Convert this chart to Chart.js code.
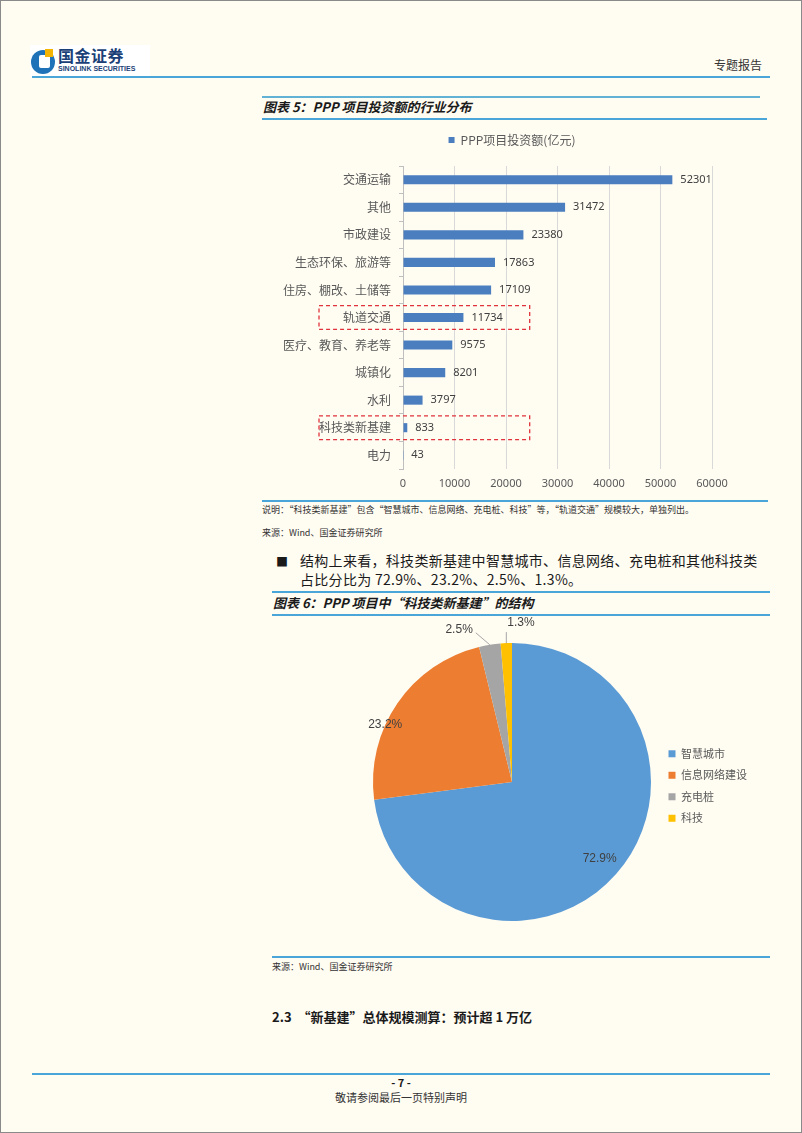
<!DOCTYPE html>
<html>
<head>
<meta charset="utf-8">
<script src="https://cdn.jsdelivr.net/npm/chart.js@4.4.1/dist/chart.umd.min.js"></script>
<style>
  body { margin: 0; background: #fffcf2; }
  #page { position: relative; width: 802px; height: 1133px; background: #fffcf2; overflow: hidden;
          font-family: "Noto Sans CJK SC", "Noto Sans", sans-serif; color: #1a1a1a; }
  #frame { position: absolute; left: 0; top: 0; width: 802px; height: 1133px; box-sizing: border-box;
           border: 1px solid #8a8a8a; pointer-events: none; }
  .t { position: absolute; white-space: nowrap; }
  .rule { position: absolute; height: 2px; background: #4aa5d8; }
  .rule.soft { background: #62b2d6; }
  .cap { font-size: 13px; font-weight: bold; font-style: italic; line-height: 16px; }
  .note { font-size: 9px; line-height: 14px; color: #333; }
  canvas { position: absolute; }
</style>
</head>
<body>
<div id="page">
  <!-- header -->
  <svg class="t" style="left:30px;top:45px" width="120" height="32">
    <rect x="0" y="0" width="120" height="32" fill="#ffffff"/>
    <circle cx="13" cy="17" r="12" fill="#1f72b8"/>
    <rect x="9" y="10" width="11" height="13" rx="2" fill="#ffffff"/>
    <rect x="15" y="4" width="8" height="8" fill="#f4b400"/>
  </svg>
  <div class="t" style="left:58px;top:46px;font-size:16px;font-weight:bold;line-height:18px;color:#1b3f77;letter-spacing:0.5px">国金证券</div>
  <div class="t" style="left:58px;top:64px;font-family:'Liberation Sans';font-size:7px;font-weight:bold;line-height:9px;color:#1b3f77">SINOLINK SECURITIES</div>
  <div class="t" style="right:40px;top:57px;font-size:12px;line-height:16px;color:#333">专题报告</div>
  <div class="rule" style="left:32px;top:76px;width:738px"></div>

  <!-- figure 5 -->
  <div class="rule soft" style="left:262px;top:96px;width:498px"></div>
  <div class="t cap" style="left:263px;top:99px">图表 5：PPP 项目投资额的行业分布</div>
  <div class="rule" style="left:262px;top:118px;width:505px"></div>
  <canvas id="barChart" width="500" height="380" style="left:262px;top:117px"></canvas>
  <div class="rule" style="left:262px;top:500px;width:506px"></div>
  <div class="t note" style="left:262px;top:503px">说明：“科技类新基建”包含“智慧城市、信息网络、充电桩、科技”等，“轨道交通”规模较大，单独列出。</div>
  <div class="t note" style="left:262px;top:526px">来源：Wind、国金证券研究所</div>

  <!-- paragraph -->
  <div class="t" style="left:276px;top:552px;font-size:12px;line-height:19px">■</div>
  <div class="t" style="left:300px;top:551px;font-size:14px;line-height:19px;letter-spacing:0.3px">结构上来看，科技类新基建中智慧城市、信息网络、充电桩和其他科技类<br>占比分比为 72.9%、23.2%、2.5%、1.3%。</div>

  <!-- figure 6 -->
  <div class="rule" style="left:272px;top:591px;width:498px"></div>
  <div class="t cap" style="left:273px;top:595px">图表 6：PPP 项目中“科技类新基建”的结构</div>
  <div class="rule" style="left:272px;top:614px;width:498px"></div>
  <canvas id="pieChart" width="485" height="338" style="left:272px;top:617px"></canvas>
  <div class="rule" style="left:272px;top:956px;width:498px"></div>
  <div class="t note" style="left:272px;top:960px">来源：Wind、国金证券研究所</div>

  <div class="t" style="left:272px;top:1008px;font-size:13px;font-weight:bold;line-height:18px">2.3&nbsp;&nbsp;“新基建”总体规模测算：预计超 1 万亿</div>

  <!-- footer -->
  <div class="rule" style="left:32px;top:1073px;width:738px"></div>
  <div class="t" style="left:0;width:802px;text-align:center;top:1075px;font-size:11px;font-weight:bold;line-height:14px">- 7 -</div>
  <div class="t" style="left:0;width:802px;text-align:center;top:1090px;font-size:11px;line-height:14px;color:#333">敬请参阅最后一页特别声明</div>
  <div id="frame"></div>
</div>

<script>
/* chart data */
const industryLabels = ["交通运输", "其他", "市政建设", "生态环保、旅游等", "住房、棚改、土储等",
  "轨道交通", "医疗、教育、养老等", "城镇化", "水利", "科技类新基建", "电力"];
const investValues = [52301, 31472, 23380, 17863, 17109, 11734, 9575, 8201, 3797, 833, 43];
const investSeriesName = "PPP项目投资额(亿元)";
const xAxisMax = 60000;
const xAxisStep = 10000;
const highlightRows = ["轨道交通", "科技类新基建"];
const highlightUpTo = 24600;

const techLabels = ["智慧城市", "信息网络建设", "充电桩", "科技"];
const techShares = [72.9, 23.2, 2.5, 1.3];
const techColors = ["#5b9bd5", "#ed7d31", "#a5a5a5", "#ffc000"];

const grayText = "#595959";
Chart.defaults.font.family = "'Noto Sans CJK SC', 'Noto Sans', sans-serif";

/*
Bar value labels + dashed highlight boxes
*/
const barExtras = {
  id: "barExtras",
  afterDatasetsDraw(chart) {
    const ctx = chart.ctx;
    const meta = chart.getDatasetMeta(0);
    ctx.save();
    ctx.font = "11px 'Noto Sans', sans-serif";
    ctx.fillStyle = "#404040";
    ctx.textBaseline = "middle";
    ctx.textAlign = "left";
    meta.data.forEach((bar, i) => {
      ctx.fillText(String(investValues[i]), bar.x + 8, bar.y);
    });

    const y = chart.scales.y;
    const x = chart.scales.x;
    const rowH = (y.bottom - y.top) / industryLabels.length;
    ctx.strokeStyle = "#e0333c";
    ctx.lineWidth = 1.3;
    ctx.setLineDash([4, 3]);
    highlightRows.forEach(name => {
      const cy = y.getPixelForValue(industryLabels.indexOf(name));
      const left = chart.chartArea.left - 84;
      const right = x.getPixelForValue(highlightUpTo);
      ctx.strokeRect(left, cy - rowH * 0.43, right - left, rowH * 0.86);
    });
    ctx.restore();
  }
};

new Chart(document.getElementById("barChart").getContext("2d"), {
  type: "bar",
  data: {
    labels: industryLabels,
    datasets: [{
      label: investSeriesName,
      data: investValues,
      backgroundColor: "#4a7ebf",
      barPercentage: 0.33,
      categoryPercentage: 1
    }]
  },
  options: {
    indexAxis: "y",
    responsive: false,
    animation: false,
    plugins: {
      legend: {
        weight: 2500,
        labels: { boxWidth: 6, boxHeight: 6, padding: 17, color: grayText, font: { size: 12 } }
      },
      // empty spacer between legend and plot
      subtitle: { display: true, text: "", padding: 0, font: { size: 8, lineHeight: 1.25 } },
      tooltip: { enabled: false }
    },
    scales: {
      x: {
        min: 0,
        max: xAxisMax,
        ticks: {
          stepSize: xAxisStep, padding: 8, color: grayText,
          font: { size: 11, family: "'Noto Sans', sans-serif" },
          callback: v => String(v)
        },
        grid: { color: "#d9d9d9", drawTicks: false },
        border: { display: false },
        afterFit(scale) { scale.height = 28; }
      },
      y: {
        ticks: { padding: 8, color: grayText, font: { size: 12 } },
        grid: { drawOnChartArea: false, tickLength: 4, color: "#bfbfbf" },
        border: { color: "#bfbfbf" },
        afterFit(scale) { scale.width = 141; }
      },
      // blank right margin for the value labels
      rightPad: {
        type: "linear",
        axis: "y",
        position: "right",
        ticks: { display: false },
        grid: { display: false },
        border: { display: false },
        afterFit(scale) { scale.width = 50; }
      }
    }
  },
  plugins: [barExtras]
});

/*
Pie percentage labels
*/
const pieLabelStyle = [
  { type: "in", r: 0.84, da: 0 },
  { type: "in", r: 1.0, da: -0.18 },
  { type: "out", dx: -14, dy: -12, tx: -3, ty: -3, align: "right" },
  { type: "out", dx: 0, dy: -11, tx: 1, ty: -9, align: "left" }
];

const pieLabels = {
  id: "pieLabels",
  afterDatasetsDraw(chart) {
    const ctx = chart.ctx;
    const meta = chart.getDatasetMeta(0);
    ctx.save();
    ctx.font = "12px 'Liberation Sans', sans-serif";
    ctx.fillStyle = "#404040";
    ctx.textBaseline = "middle";
    meta.data.forEach((arc, i) => {
      const p = arc.getProps(["x", "y", "startAngle", "endAngle", "outerRadius"], true);
      const s = pieLabelStyle[i];
      const text = techShares[i].toFixed(1) + "%";
      const mid = (p.startAngle + p.endAngle) / 2;
      if (s.type === "in") {
        const a = mid + s.da;
        ctx.textAlign = "center";
        ctx.fillText(text, p.x + Math.cos(a) * p.outerRadius * s.r, p.y + Math.sin(a) * p.outerRadius * s.r);
      } else {
        const ex = p.x + Math.cos(mid) * p.outerRadius;
        const ey = p.y + Math.sin(mid) * p.outerRadius;
        const bx = ex + s.dx, by = ey + s.dy;
        ctx.strokeStyle = "#a6a6a6";
        ctx.lineWidth = 1;
        ctx.beginPath();
        ctx.moveTo(ex, ey);
        ctx.lineTo(bx, by);
        ctx.stroke();
        ctx.textAlign = s.align;
        ctx.fillText(text, bx + s.tx, by + s.ty);
      }
    });
    ctx.restore();
  }
};

new Chart(document.getElementById("pieChart").getContext("2d"), {
  type: "pie",
  data: {
    labels: techLabels,
    datasets: [{
      data: techShares,
      backgroundColor: techColors,
      borderWidth: 0
    }]
  },
  options: {
    responsive: false,
    animation: false,
    layout: { padding: { left: 94, top: 26, bottom: 34, right: 0 } },
    plugins: {
      legend: {
        position: "right",
        title: { display: true, text: " ", padding: 0, font: { size: 6, lineHeight: 1.34 } },
        labels: { boxWidth: 7, boxHeight: 7, padding: 10.5, color: grayText, font: { size: 11 } }
      },
      tooltip: { enabled: false }
    }
  },
  plugins: [pieLabels]
});
</script>
</body>
</html>
